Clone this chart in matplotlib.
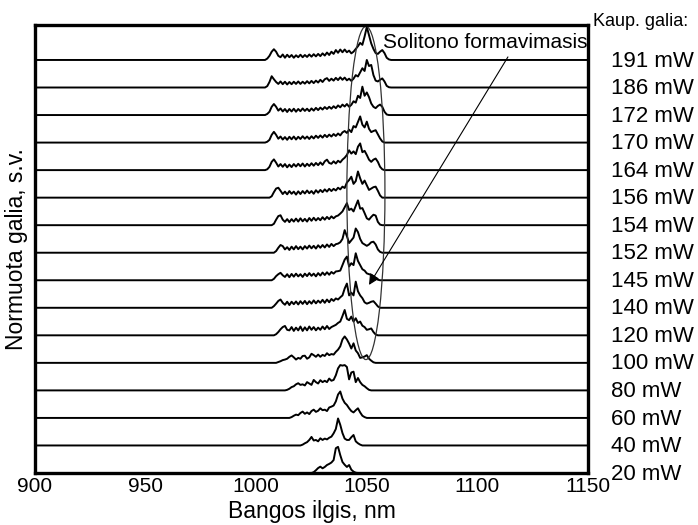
import matplotlib
matplotlib.use("Agg")
import matplotlib.pyplot as plt
from matplotlib.patches import Ellipse

plt.rcParams['font.family'] = ['Liberation Sans', 'DejaVu Sans']

# wavelength grid (nm) for the active part of each spectrum
WL = list(range(1004, 1065))
X_MIN, X_MAX = 900, 1150

# pump powers, top to bottom
POWERS = ["191 mW", "186 mW", "172 mW", "170 mW", "164 mW", "156 mW", "154 mW", "152 mW",
          "145 mW", "140 mW", "120 mW", "100 mW", "80 mW", "60 mW", "40 mW", "20 mW"]

# normalised intensity (in units of trace spacing), 1004..1064 nm
s191 = [0, .05, .15, .30, .39, .30, .15, .10, .20, .08,
        .19, .10, .18, .08, .17, .10, .19, .10, .18, .11,
        .20, .12, .21, .13, .22, .14, .24, .16, .27, .18,
        .30, .22, .36, .26, .38, .28, .38, .28, .34, .24,
        .30, .40, .50, .62, .55, .85, 1.2, .90, .60, .40,
        .25, .22, .30, .36, .25, .08, .02, 0, 0, 0, 0]
s186 = [0, .05, .20, .41, .30, .20, .13, .22, .12, .21,
        .11, .20, .12, .21, .13, .22, .13, .21, .14, .23,
        .15, .24, .16, .25, .18, .28, .20, .30, .34, .24,
        .32, .25, .35, .27, .37, .28, .36, .26, .32, .24,
        .32, .45, .40, .55, .70, .60, 1.0, .78, .82, .45,
        .25, .22, .28, .33, .22, .06, .01, 0, 0, 0, 0]
s172 = [0, .04, .12, .30, .40, .30, .16, .24, .13, .22,
        .11, .22, .13, .23, .12, .22, .14, .24, .15, .23,
        .14, .24, .16, .26, .18, .27, .20, .29, .22, .30,
        .23, .32, .25, .35, .28, .38, .31, .40, .30, .37,
        .50, .45, .70, .62, 1.03, .70, .82, .65, .42, .30,
        .25, .33, .38, .30, .12, .02, 0, 0, 0, 0, 0]
s170 = [0, .03, .10, .28, .39, .28, .14, .22, .11, .20,
        .10, .21, .12, .22, .11, .21, .13, .23, .14, .22,
        .13, .23, .15, .25, .17, .26, .18, .28, .20, .29,
        .22, .31, .24, .33, .26, .37, .42, .35, .47, .38,
        .60, .55, .75, .95, .65, .55, .76, .50, .38, .42,
        .45, .30, .15, .04, 0, 0, 0, 0, 0, 0, 0]
s164 = [0, .03, .12, .30, .39, .27, .13, .22, .12, .22,
        .10, .20, .11, .22, .13, .23, .14, .24, .13, .23,
        .15, .25, .16, .26, .18, .28, .19, .32, .38, .26,
        .23, .32, .24, .34, .28, .38, .45, .55, .72, .60,
        .68, .58, .85, .97, .65, .70, .55, .38, .30, .38,
        .42, .30, .12, .03, 0, 0, 0, 0, 0, 0, 0]
s156 = [0, 0, 0, .05, .20, .33, .36, .25, .13, .22,
        .12, .24, .14, .22, .11, .23, .13, .24, .15, .26,
        .16, .24, .14, .27, .18, .28, .20, .30, .22, .32,
        .24, .32, .26, .36, .30, .40, .35, .55, .64, .76,
        .50, .60, .95, .70, .50, .62, .45, .28, .33, .38,
        .40, .25, .08, 0, 0, 0, 0, 0, 0, 0, 0]
s154 = [0, 0, 0, 0, .05, .20, .33, .36, .20, .12,
        .22, .11, .22, .13, .24, .13, .25, .14, .23, .13,
        .26, .16, .27, .17, .26, .18, .29, .20, .30, .22,
        .32, .25, .32, .35, .42, .50, .65, .80, .55, .60,
        .50, .70, .90, .60, .62, .44, .25, .20, .30, .38,
        .35, .12, .02, 0, 0, 0, 0, 0, 0, 0, 0]
s152 = [0, 0, 0, 0, 0, .06, .18, .28, .24, .12,
        .20, .10, .22, .12, .24, .13, .22, .12, .24, .15,
        .26, .16, .25, .15, .27, .18, .28, .19, .30, .21,
        .32, .24, .31, .33, .38, .50, .82, .60, .35, .45,
        .55, .88, .75, .50, .35, .30, .25, .30, .38, .40,
        .30, .12, .03, 0, 0, 0, 0, 0, 0, 0, 0]
s145 = [0, 0, 0, 0, .05, .15, .22, .27, .18, .12,
        .22, .11, .23, .13, .24, .14, .22, .12, .24, .15,
        .26, .16, .24, .14, .26, .17, .28, .19, .29, .20,
        .30, .24, .32, .33, .35, .55, .75, .86, .50, .62,
        .55, .98, .70, .55, .40, .35, .25, .22, .20, .15,
        .08, .02, 0, 0, 0, 0, 0, 0, 0, 0, 0]
s140 = [0, 0, 0, 0, .06, .15, .25, .30, .18, .11,
        .22, .10, .22, .13, .23, .12, .24, .14, .25, .13,
        .24, .15, .27, .16, .26, .18, .29, .18, .30, .20,
        .32, .25, .34, .30, .38, .45, .70, .88, .45, .55,
        .45, .95, .60, .45, .35, .20, .15, .18, .22, .24,
        .15, .05, 0, 0, 0, 0, 0, 0, 0, 0, 0]
s120 = [0, 0, 0, 0, 0, .04, .12, .22, .30, .34,
        .20, .18, .30, .16, .28, .18, .32, .16, .29, .18,
        .32, .20, .30, .18, .28, .20, .32, .22, .34, .23,
        .30, .34, .38, .45, .50, .70, .92, .60, .55, .68,
        .50, .62, .45, .50, .35, .30, .20, .22, .25, .12,
        .03, 0, 0, 0, 0, 0, 0, 0, 0, 0, 0]
s100 = [0, 0, 0, 0, 0, 0, .03, .06, .10, .12,
        .15, .22, .27, .20, .12, .18, .15, .25, .26, .15,
        .20, .33, .28, .22, .30, .22, .29, .25, .35, .28,
        .32, .30, .40, .48, .60, .85, .96, .85, .70, .52,
        .71, .45, .35, .18, .20, .23, .28, .15, .08, .02,
        0, 0, 0, 0, 0, 0, 0, 0, 0, 0, 0]
s80 = [0, 0, 0, 0, 0, 0, 0, 0, 0, 0,
       .02, .06, .12, .15, .22, .26, .20, .22, .18, .30,
       .25, .20, .38, .30, .25, .37, .30, .35, .30, .43,
       .35, .38, .55, .80, .92, .90, .92, .85, .40, .65,
       .68, .30, .45, .30, .20, .15, .08, .02, 0, 0,
       0, 0, 0, 0, 0, 0, 0, 0, 0, 0, 0]
s60 = [0, 0, 0, 0, 0, 0, 0, 0, 0, 0,
       0, 0, .03, .08, .12, .10, .18, .23, .15, .20,
       .14, .25, .30, .22, .26, .35, .28, .30, .25, .38,
       .41, .45, .60, .85, .96, .70, .55, .47, .35, .25,
       .20, .28, .35, .20, .08, .03, 0, 0, 0, 0,
       0, 0, 0, 0, 0, 0, 0, 0, 0, 0, 0]
s40 = [0, 0, 0, 0, 0, 0, 0, 0, 0, 0,
       0, 0, 0, 0, 0, 0, 0, .03, .08, .12,
       .20, .31, .18, .20, .15, .26, .20, .25, .22, .28,
       .32, .44, .60, .98, .75, .45, .25, .20, .20, .30,
       .38, .15, .08, .03, 0, 0, 0, 0, 0, 0,
       0, 0, 0, 0, 0, 0, 0, 0, 0, 0, 0]
s20 = [0, 0, 0, 0, 0, 0, 0, 0, 0, 0,
       0, 0, 0, 0, 0, 0, 0, 0, 0, 0,
       0, 0, .03, .10, .18, .23, .17, .22, .29, .33,
       .38, .47, .90, .95, .65, .40, .30, .22, .29, .12,
       .05, .01, 0, 0, 0, 0, 0, 0, 0, 0,
       0, 0, 0, 0, 0, 0, 0, 0, 0, 0, 0]

SPECTRA = [s191, s186, s172, s170, s164, s156, s154, s152,
           s145, s140, s120, s100, s80, s60, s40, s20]

XTICKS = [900, 950, 1000, 1050, 1100, 1150]

fig = plt.figure(figsize=(6.98, 5.25), dpi=100)
ax = fig.add_axes([35/698, 1-473/525, (588-35)/698, (473-25)/525])

n = len(SPECTRA)
for i, (label, spec) in enumerate(zip(POWERS, SPECTRA)):
    off = n - 1 - i
    xs = [X_MIN] + WL + [X_MAX]
    ys = [off] + [off + v for v in spec] + [off]
    ax.plot(xs, ys, color='black', lw=1.4, solid_joinstyle='round', clip_on=True)
    ax.text(1.0416, off - 0.24, label, transform=ax.get_yaxis_transform(),
            fontsize=16, va='baseline', ha='left', clip_on=False)

ax.set_xlim(X_MIN, X_MAX)
ax.set_ylim(0, n - 1 + 1.27)
ax.set_xticks(XTICKS)
ax.set_xticklabels([str(t) for t in XTICKS], fontsize=15)
ax.set_yticks([])
ax.tick_params(axis='x', length=0, pad=3)
for sp in ax.spines.values():
    sp.set_linewidth(2.4)
    sp.set_zorder(5)

ax.set_xlabel("Bangos ilgis, nm", fontsize=16.5, labelpad=3)
ax.set_ylabel("Normuota galia, s.v.", fontsize=16.5, labelpad=5)

ell = Ellipse((1049.6, 10.17), width=17.2, height=12.1, fill=False,
              edgecolor='#333333', lw=0.9, zorder=3)
ax.add_patch(ell)

ax.annotate('', xy=(1051.0, 6.83), xytext=(1113.8, 15.11),
            arrowprops=dict(arrowstyle='-|>', color='black', lw=0.8,
                            mutation_scale=16, shrinkA=0, shrinkB=0))
ax.text(1057.3, 15.45, "Solitono formavimasis", fontsize=15,
        va='baseline', ha='left')

fig.text(593/698, 1-26/525, "Kaup. galia:", fontsize=13, va='baseline', ha='left')

fig.savefig("out.png", dpi=100)
